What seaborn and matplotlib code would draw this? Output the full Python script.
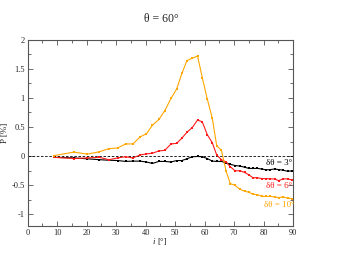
import numpy as np
import pandas as pd
import matplotlib
matplotlib.use("Agg")
import matplotlib.pyplot as plt
from matplotlib.ticker import MultipleLocator
import seaborn as sns

# inclination angle i [deg]
incl = [9.0, 15.7, 20.2, 24.3, 27.6, 30.5, 33.2, 35.7, 38.1, 40.3,
        42.3, 44.5, 46.5, 48.6, 50.5, 52.3, 54.0, 55.8, 57.6, 59.2,
        60.9, 62.6, 64.1, 65.7, 67.3, 68.7, 70.3, 72.0, 73.6, 75.0,
        76.4, 77.9, 79.4, 80.8, 82.3, 83.7, 85.1, 86.6, 88.1, 89.7]

# polarisation P [%] for each dtheta
p_3 = [-0.02, -0.03, -0.045, -0.06, -0.07, -0.075, -0.09, -0.085, -0.085, -0.10,
       -0.125, -0.09, -0.09, -0.10, -0.075, -0.075, -0.045, -0.01, -0.005, -0.01,
       -0.04, -0.085, -0.09, -0.09, -0.115, -0.14, -0.16, -0.17, -0.19, -0.21,
       -0.21, -0.21, -0.22, -0.235, -0.23, -0.22, -0.23, -0.24, -0.26, -0.25]
p_6 = [-0.02, -0.04, -0.03, -0.02, -0.06, -0.03, -0.01, -0.03, 0.02, 0.04,
       0.05, 0.09, 0.10, 0.21, 0.22, 0.31, 0.41, 0.49, 0.62, 0.59,
       0.37, 0.23, 0.02, -0.06, -0.10, -0.18, -0.25, -0.25, -0.28, -0.32,
       -0.37, -0.37, -0.385, -0.385, -0.39, -0.39, -0.42, -0.39, -0.39, -0.41]
p_10 = [0.01, 0.07, 0.035, 0.075, 0.13, 0.14, 0.21, 0.21, 0.33, 0.385,
        0.53, 0.63, 0.78, 0.99, 1.15, 1.42, 1.64, 1.68, 1.72, 1.35,
        0.98, 0.65, 0.18, 0.10, -0.26, -0.47, -0.50, -0.57, -0.60, -0.62,
        -0.65, -0.66, -0.69, -0.69, -0.69, -0.70, -0.71, -0.70, -0.72, -0.73]

series = {"δθ = 3°": p_3, "δθ = 6°": p_6, "δθ = 10°": p_10}
colors = {"δθ = 3°": "black", "δθ = 6°": "#ff1a1a", "δθ = 10°": "#ffa500"}
label_y = {"δθ = 3°": -0.11, "δθ = 6°": -0.52, "δθ = 10°": -0.83}

df = pd.concat([pd.DataFrame({"i": incl, "P": v, "case": k}) for k, v in series.items()])

sns.set_style("ticks")
plt.rcParams["font.family"] = ["Liberation Serif", "DejaVu Serif"]

fig = plt.figure(figsize=(3.54, 2.59), dpi=100)
ax = fig.add_axes([0.078, 0.127, 0.750, 0.720])

ax.axhline(0, color="black", lw=0.6, ls=(0, (3, 2)), zorder=1)
sns.lineplot(data=df, x="i", y="P", hue="case", palette=colors, marker="s",
             markersize=1.7, markeredgewidth=0, linewidth=0.8, legend=False, ax=ax)

for k in series:
    ax.text(85.3, label_y[k], k, color=colors[k], fontsize=6.5, ha="center", va="center")

ax.set_xlim(0, 90)
ax.set_ylim(-1.2, 2)
ax.xaxis.set_major_locator(MultipleLocator(10))
ax.xaxis.set_minor_locator(MultipleLocator(5))
ax.yaxis.set_major_locator(MultipleLocator(0.5))
ax.yaxis.set_minor_locator(MultipleLocator(0.25))
ax.set_yticks([-1, -0.5, 0, 0.5, 1, 1.5, 2])
ax.set_yticklabels(["-1", "-0.5", "0", "0.5", "1", "1.5", "2"])
ax.tick_params(which="both", direction="in", top=True, right=True, labelsize=6,
               color="#555555", pad=2)
ax.tick_params(which="major", length=3.5, width=0.6)
ax.tick_params(which="minor", length=2, width=0.6)
for s in ax.spines.values():
    s.set_linewidth(0.8)
    s.set_color("#555555")

ax.set_xlabel("")
ax.set_ylabel("P [%]", fontsize=6.5, labelpad=2)
ax.text(0.48, -0.085, "i", style="italic", fontsize=6.5, ha="right", va="center",
        transform=ax.transAxes)
ax.text(0.49, -0.085, "[°]", fontsize=6.5, ha="left", va="center",
        transform=ax.transAxes)
fig.text(0.455, 0.925, "θ = 60°", ha="center", va="center", fontsize=8.5)

fig.savefig("out.png", dpi=100)
